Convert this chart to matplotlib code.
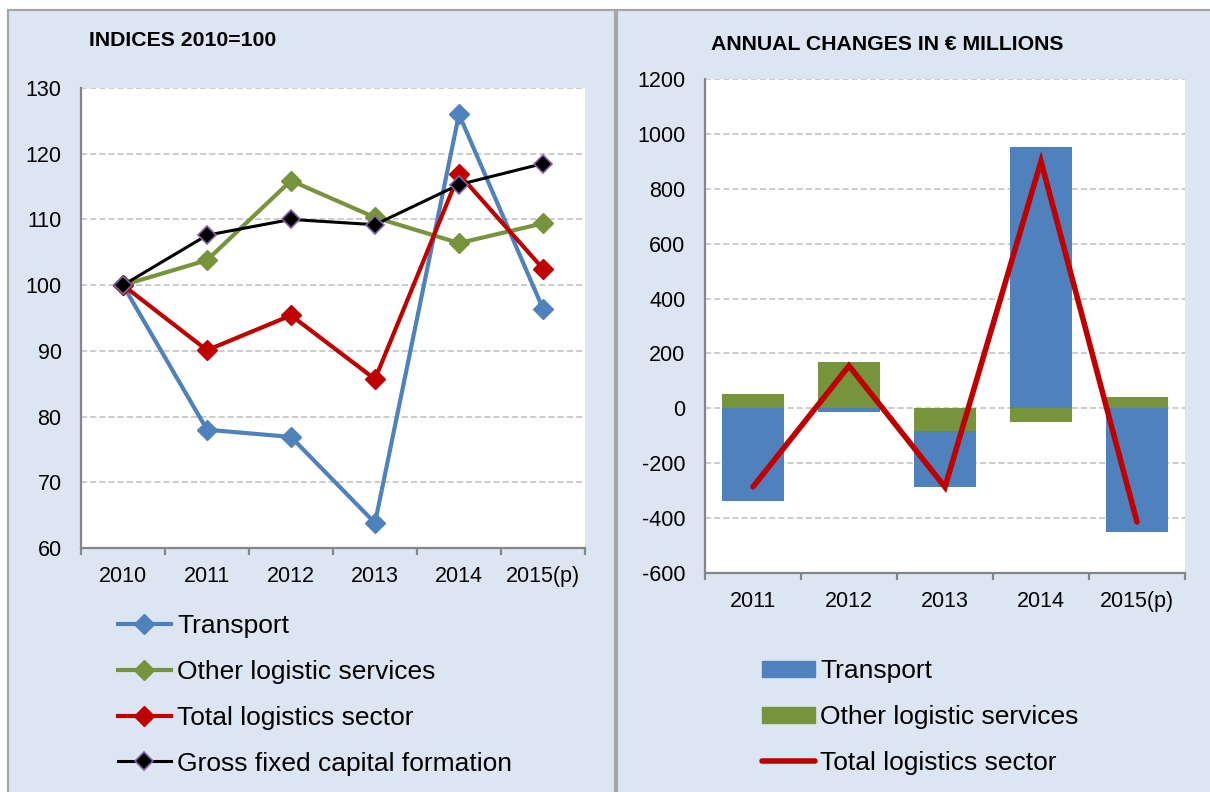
import numpy as np
import matplotlib
matplotlib.use("Agg")
import matplotlib.pyplot as plt
from matplotlib.patches import Rectangle, Patch
from matplotlib.lines import Line2D
from matplotlib.ticker import MultipleLocator

plt.rcParams['font.family'] = ['Liberation Sans', 'DejaVu Sans']
plt.rcParams['axes.unicode_minus'] = False

# Left panel: indices 2010=100
years_idx = ['2010', '2011', '2012', '2013', '2014', '2015(p)']
transport_idx = [100, 78.0, 76.9, 63.8, 126.0, 96.4]
other_idx = [100, 103.8, 115.9, 110.3, 106.4, 109.4]
total_idx = [100, 90.1, 95.4, 85.7, 116.9, 102.5]
gfcf_idx = [100, 107.6, 110.0, 109.2, 115.3, 118.5]

# Right panel: annual changes in EUR millions
years_chg = ['2011', '2012', '2013', '2014', '2015(p)']
transport_chg = [-337, -15, -201, 951, -452]
other_chg = [51, 168, -84, -51, 40]
total_chg = [-286, 155, -287, 900, -414]

BLUE = '#4F81BD'
GREEN = '#77933C'
RED = '#C00000'
PURPLE = '#8064A2'
PANEL = '#DCE6F2'
GRID = '#BFBFBF'
SPINE = '#868686'

W, H = 1210, 792
fig = plt.figure(figsize=(W / 100, H / 100), dpi=100)


def fx(px):
    return px / W


def fy(py):
    return 1 - py / H


# panel backgrounds
for x0, x1 in [(8, 615), (617, 1212)]:
    fig.add_artist(Rectangle((fx(x0), fy(800)), fx(x1 - x0), fy(10) - fy(800),
                             transform=fig.transFigure, facecolor=PANEL,
                             edgecolor='#A6A6A6', lw=1.6, zorder=0))


def style_axes(ax, n, ylim, step):
    ax.set_facecolor('white')
    ax.set_xlim(-0.5, n - 0.5)
    ax.set_ylim(*ylim)
    ax.yaxis.set_major_locator(MultipleLocator(step))
    ax.grid(axis='y', color=GRID, linestyle=(0, (4, 2)), lw=1.1)
    ax.set_axisbelow(True)
    for s in ['top', 'right']:
        ax.spines[s].set_visible(False)
    for s in ['left', 'bottom']:
        ax.spines[s].set_color(SPINE)
        ax.spines[s].set_linewidth(1.6)
    ax.set_xticks(np.arange(n))
    ax.set_xticks(np.arange(n + 1) - 0.5, minor=True)
    ax.tick_params(axis='x', which='major', length=0, pad=13, labelsize=15.5)
    ax.tick_params(axis='x', which='minor', length=5, width=1.6, color=SPINE)
    ax.tick_params(axis='y', length=0, pad=14, labelsize=15.5)


# ---- left chart
ax1 = fig.add_axes([fx(81), fy(548), fx(585 - 81), fy(88) - fy(548)])
style_axes(ax1, len(years_idx), (60, 130), 10)
ax1.set_xticklabels(years_idx)
x = np.arange(len(years_idx))
ax1.plot(x, transport_idx, color=BLUE, lw=3, marker='D', ms=10, mec=BLUE, label='Transport', zorder=3)
ax1.plot(x, other_idx, color=GREEN, lw=3, marker='D', ms=10, mec=GREEN, label='Other logistic services', zorder=3)
ax1.plot(x, total_idx, color=RED, lw=3, marker='D', ms=10, mec=RED, label='Total logistics sector', zorder=4)
ax1.plot(x, gfcf_idx, color='black', lw=2.2, marker='D', ms=9, mfc='black', mec=PURPLE, mew=1.2,
         label='Gross fixed capital formation', zorder=5)
fig.text(fx(89), fy(40), 'INDICES 2010=100', fontsize=15.3, fontweight='bold', va='center', ha='left')

fig.legend(handles=ax1.get_lines(), loc='upper left', bbox_to_anchor=(fx(118), fy(614)),
           frameon=False, fontsize=19, handlelength=2.0, handletextpad=0.25,
           labelspacing=0.83, borderaxespad=0, borderpad=0)

# ---- right chart
ax2 = fig.add_axes([fx(705), fy(573), fx(1185 - 705), fy(79) - fy(573)])
style_axes(ax2, len(years_chg), (-600, 1200), 200)
ax2.set_xticklabels(years_chg)
xc = np.arange(len(years_chg))
tr = np.array(transport_chg)
ot = np.array(other_chg)
tr_bottom = np.where(np.sign(tr) == np.sign(ot), ot, 0)
ax2.bar(xc, ot, width=0.65, color=GREEN, zorder=2)
ax2.bar(xc, tr, width=0.65, bottom=tr_bottom, color=BLUE, zorder=2)
ax2.plot(xc, total_chg, color=RED, lw=4, solid_capstyle='round', solid_joinstyle='miter', zorder=3)
fig.text(fx(711), fy(44), 'ANNUAL CHANGES IN € MILLIONS', fontsize=15.3, fontweight='bold',
         va='center', ha='left')

handles2 = [Patch(color=BLUE, label='Transport'),
            Patch(color=GREEN, label='Other logistic services'),
            Line2D([], [], color=RED, lw=4, solid_capstyle='round', label='Total logistics sector')]
fig.legend(handles=handles2, loc='upper left', bbox_to_anchor=(fx(762), fy(659)),
           frameon=False, fontsize=19, handlelength=2.0, handleheight=0.55, handletextpad=0.2,
           labelspacing=0.83, borderaxespad=0, borderpad=0)

fig.savefig('out.png', dpi=100, facecolor='white')
